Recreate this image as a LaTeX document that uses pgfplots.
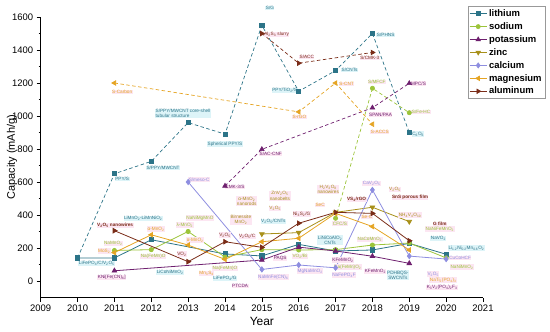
\documentclass[border=0pt]{standalone}
\usepackage{fontspec}
\setmainfont{Liberation Sans}
\usepackage{pgfplots}
\pgfplotsset{compat=1.18}
\definecolor{cLi}{HTML}{2C7488}
\definecolor{cNa}{HTML}{9CC43A}
\definecolor{cK}{HTML}{6E1F6E}
\definecolor{cZn}{HTML}{A8901A}
\definecolor{cCa}{HTML}{8E8EE0}
\definecolor{cMg}{HTML}{E5A423}
\definecolor{cAl}{HTML}{7A2C18}
\definecolor{bgLi}{HTML}{DDF4F8}
\definecolor{bgP}{HTML}{FCE6F2}
\newcommand{\sub}[1]{\textsubscript{#1}}
\tikzset{
 lb/.style={font=\fontsize{4.7}{5.1}\selectfont, inner sep=0.5pt, text=#1, fill=bgP, align=center},
 ll/.style={font=\fontsize{4.7}{5.1}\selectfont, inner sep=0.5pt, text=cLi, fill=bgLi, align=center},
 bf/.style={font=\bfseries\fontsize{4.7}{5.1}\selectfont},
}
\begin{document}
\begin{tikzpicture}
\useasboundingbox (0,0) rectangle (550bp,332bp);
\begin{axis}[
 at={(40.7bp,34.5bp)}, anchor=south west, scale only axis,
 width=442.3bp, height=280.5bp,
 xmin=2009, xmax=2021, ymin=-100, ymax=1600,
 axis x line*=bottom, axis y line*=left,
 xtick={2009,2010,...,2021}, ytick={0,200,...,1600},
 minor x tick num=1, minor y tick num=1,
 tick align=outside, major tick length=4bp, minor tick length=2.2bp,
 every tick/.style={black, line width=0.6pt},
 axis line style={black, line width=0.7pt, -},
 /pgf/number format/1000 sep={}, /pgf/number format/assume math mode=true,
 tick label style={font=\fontsize{9.5}{11}\selectfont},
 xlabel={Year}, ylabel={Capacity (mAh/g)},
 xlabel style={font=\fontsize{12}{14}\selectfont, at={(axis description cs:0.5,-0.087)}, anchor=center},
 ylabel style={font=\fontsize{11}{13}\selectfont, at={(axis description cs:-0.065,0.5)}, anchor=center},
 clip=false,
 legend style={at={(axis description cs:0.966,1.039)}, anchor=north west, draw=gray!80, line width=0.5pt,
   font=\bfseries\fontsize{9.5}{10}\selectfont, fill=white, inner sep=1.2pt, row sep=0.6pt},
 legend cell align=left,
 legend image post style={line width=0.6pt},
]
% ---- dashed (sulfur / conversion) series
\addplot[cLi, dash pattern=on 3.5pt off 2.5pt, line width=0.7pt, mark=square*, mark size=2.1pt, mark options={solid}, forget plot]
 coordinates {(2010,140)(2011,650)(2012,725)(2013,960)(2014,890)(2015,1550)(2016,1150)(2017,1275)(2018,1500)(2019,900)};
\addplot[cNa, dash pattern=on 3.5pt off 2.5pt, line width=0.7pt, mark=*, mark size=2.1pt, mark options={solid}, forget plot]
 coordinates {(2017,380)(2018,1168)(2019,1020)};
\addplot[cK, dash pattern=on 3.5pt off 2.5pt, line width=0.7pt, mark=triangle*, mark size=2.6pt, mark options={solid}, forget plot]
 coordinates {(2014,576)(2015,798)(2018,1050)(2019,1198)};
\addplot[cMg, dash pattern=on 3.5pt off 2.5pt, line width=0.7pt, mark=triangle*, mark size=2.6pt, mark options={solid, rotate=90}, forget plot]
 coordinates {(2011,1200)(2016,1025)(2017,1200)(2018,950)};
\addplot[cAl, dash pattern=on 3.5pt off 2.5pt, line width=0.7pt, mark=triangle*, mark size=2.6pt, mark options={solid, rotate=-90}, forget plot]
 coordinates {(2015,1500)(2016,1320)(2018,1385)};
% ---- solid series
\addplot[cLi, line width=0.8pt, mark=square*, mark size=2.1pt]
 coordinates {(2010,140)(2011,140)(2012,250)(2014,164)(2015,152)(2016,222)(2017,182)(2018,188)(2019,228)(2020,162)};
\addlegendentry{lithium}
\addplot[cNa, line width=0.8pt, mark=*, mark size=2.1pt]
 coordinates {(2011,185)(2012,190)(2013,300)(2014,145)(2015,190)(2016,188)(2017,190)(2018,218)(2019,230)(2020,140)};
\addlegendentry{sodium}
\addplot[cK, line width=0.8pt, mark=triangle*, mark size=2.6pt]
 coordinates {(2011,62)(2015,127)(2016,205)(2017,182)(2018,150)(2019,107)};
\addlegendentry{potassium}
\addplot[cZn, line width=0.8pt, mark=triangle*, mark size=2.6pt, mark options={rotate=180}]
 coordinates {(2015,285)(2016,293)(2017,416)(2018,447)(2019,360)};
\addlegendentry{zinc}
\addplot[cCa, line width=0.8pt, mark=diamond*, mark size=2.6pt]
 coordinates {(2013,600)(2015,70)(2016,97)(2017,80)(2018,552)(2019,151)(2020,133)};
\addlegendentry{calcium}
\addplot[cMg, line width=0.8pt, mark=triangle*, mark size=2.6pt, mark options={rotate=90}]
 coordinates {(2011,172)(2012,280)(2013,218)(2014,131)(2015,238)(2016,259)(2017,410)(2018,330)(2019,188)};
\addlegendentry{magnesium}
\addplot[cAl, line width=0.8pt, mark=triangle*, mark size=2.6pt, mark options={rotate=-90}]
 coordinates {(2011,305)(2013,117)(2014,238)(2015,204)(2016,350)(2017,416)(2018,410)(2019,244)};
\addlegendentry{aluminum}
% ---- labels: lithium
\node[ll] at (axis cs:2015.22,1655) {S/G};
\node[ll] at (axis cs:2017.38,1279) {S/CNTs};
\node[ll] at (axis cs:2015.62,1153) {PPY/TiO\sub{2}/S};
\node[ll] at (axis cs:2018.36,1491) {S/PHNS};
\node[ll] at (axis cs:2019.24,891) {C\sub{6}O\sub{6}};
\node[ll] at (axis cs:2014,830) {Spherical PPY/S};
\node[ll, anchor=west, align=left] at (axis cs:2012.1,1015) {S/PPY/MWCNT core-shell\\tubular structure};
\node[ll] at (axis cs:2012.32,685) {S/PPY/MWCNT};
\node[ll] at (axis cs:2011.21,618) {PPY/S};
\node[ll] at (axis cs:2011.78,380) {LiMnO\sub{2}-LiMnNiO\sub{2}};
\node[ll] at (axis cs:2010.52,107) {LiFePO\sub{4}/C/V\sub{2}O\sub{5}};
\node[ll] at (axis cs:2012.51,50) {LiCoNiMnO\sub{2}};
\node[ll] at (axis cs:2014,16) {LiFePO\sub{4}/G};
\node[ll] at (axis cs:2015.31,360) {V\sub{2}O\sub{5}/CNTs};
\node[ll] at (axis cs:2016.85,248) {LiNiCoAlO\sub{2}\\CNTs};
\node[ll] at (axis cs:2018.69,36) {PDHBQS-\\SWCNTs};
\node[ll] at (axis cs:2019.79,259) {NaVO\sub{2}};
\node[ll] at (axis cs:2020.55,200) {Li\sub{1.2}Ni\sub{0.2}Mn\sub{0.6}O\sub{2}};
% sodium
\node[lb=cNa] at (axis cs:2018.12,1205) {S/MFCF};
\node[lb=cNa] at (axis cs:2019.32,1024) {S/Fe-HC};
\node[lb=cNa] at (axis cs:2010.97,226) {NaMnO\sub{2}};
\node[lb=cNa] at (axis cs:2012.05,150) {Na(FeMn)O};
\node[lb=cNa] at (axis cs:2012.91,339) {λ-MnO\sub{2}};
\node[lb=cNa] at (axis cs:2013.32,382) {NaNiMgMnO};
\node[lb=cNa] at (axis cs:2014,77) {Na(FeMn)O};
\node[lb=cNa] at (axis cs:2016.03,150) {VO\sub{2}/Bi};
\node[lb=cNa] at (axis cs:2017.12,348) {CFC/S};
\node[lb=cNa] at (axis cs:2017.93,250) {NaCoMnO\sub{2}};
\node[lb=cNa] at (axis cs:2017.33,86) {Na(FeMn)O\sub{2}};
\node[lb=cNa] at (axis cs:2019.83,315) {NaNiFeMnO\sub{2}};
\node[lb=cNa] at (axis cs:2020.43,85) {NaNiMnO\sub{2}};
% potassium
\node[lb=cK] at (axis cs:2019.25,1198) {MPC/S};
\node[lb=cK] at (axis cs:2018.22,1010) {SPAN/PAA};
\node[lb=cK] at (axis cs:2015.24,770) {S/AC-CNF};
\node[lb=cK] at (axis cs:2014.27,570) {CMK-3/S};
\node[lb=cK] at (axis cs:2010.93,20) {KNi[Fe(CN)\sub{6}]};
\node[lb=cK] at (axis cs:2014.41,-30) {PTCDA};
\node[lb=cK] at (axis cs:2015.5,135) {PAQS};
\node[lb=cK] at (axis cs:2017.2,127) {KFeMnO\sub{2}};
\node[lb=cK] at (axis cs:2018.08,58) {KFeMnO\sub{2}};
\node[lb=cK] at (axis cs:2019.89,-38) {K\sub{3}V\sub{2}(PO\sub{4})\sub{2}F\sub{3}};
% zinc
\node[lb=cZn] at (axis cs:2014.59,484) {α-MnO\sub{2}\\nanorods};
\node[lb=cZn] at (axis cs:2014.43,370) {Birnessite\\MnO\sub{2}};
\node[lb=cZn] at (axis cs:2015.49,516) {ZnV\sub{2}O\sub{5}\\nanobelts};
\node[lb=cZn] at (axis cs:2015.36,441) {V\sub{2}O\sub{5}};
\node[lb=cZn] at (axis cs:2016.8,556) {H\sub{2}V\sub{3}O\sub{8}\\nanowires};
\node[lb=cZn] at (axis cs:2018.61,556) {V\sub{2}O\sub{5}};
\node[lb=cZn] at (axis cs:2019.02,400) {NH\sub{4}V\sub{4}O\sub{10}};
% calcium
\node[lb=cCa] at (axis cs:2013.3,615) {S/meso-C};
\node[lb=cCa] at (axis cs:2015.31,24) {NaMnFe(CN)\sub{6}};
\node[lb=cCa] at (axis cs:2016.31,61) {MgNaMnO\sub{2}};
\node[lb=cCa] at (axis cs:2017.23,36) {NaFePO\sub{4}F};
\node[lb=cCa] at (axis cs:2017.98,592) {CaV\sub{2}O\sub{5}};
\node[lb=cCa] at (axis cs:2019.65,42) {V\sub{2}O\sub{5}};
\node[lb=cCa] at (axis cs:2020.38,139) {CuCoHCF};
% magnesium
\node[lb=cMg] at (axis cs:2011.21,1145) {S-Carbon};
\node[lb=cMg] at (axis cs:2016.02,996) {S-rGO};
\node[lb=cMg] at (axis cs:2017.3,1194) {S-CNT};
\node[lb=cMg] at (axis cs:2018.2,905) {S-ACCS};
\node[lb=cMg] at (axis cs:2010.72,182) {MoS\sub{2}};
\node[lb=cMg] at (axis cs:2012.13,315) {α-MnO\sub{2}};
\node[lb=cMg] at (axis cs:2013.19,248) {α-MnO\sub{2}};
\node[lb=cMg] at (axis cs:2013.5,47) {Mn\sub{3}S\sub{4}};
\node[lb=cMg] at (axis cs:2016.58,461) {SeC};
\node[lb=cMg] at (axis cs:2017.85,388) {Se-C};
\node[lb=cMg] at (axis cs:2019.92,6) {NaTi\sub{2}(PO\sub{4})\sub{3}};
% aluminum
\node[lb=cAl] at (axis cs:2015.4,1495) {Al\sub{2}S\sub{3} slurry};
\node[lb=cAl] at (axis cs:2016.22,1358) {S/ACC};
\node[lb=cAl] at (axis cs:2017.93,1350) {S/CMK-3};
\node[lb=cAl, bf] at (axis cs:2011.02,335) {V\sub{2}O\sub{5} nanowires};
\node[lb=cAl] at (axis cs:2012.83,164) {VO\sub{2}};
\node[lb=cAl] at (axis cs:2014,279) {V\sub{2}O\sub{5}};
\node[lb=cAl] at (axis cs:2014.6,268) {V\sub{2}O\sub{5}/C};
\node[lb=cAl] at (axis cs:2016.08,406) {Ni\sub{3}S\sub{2}/G};
\node[lb=cAl, bf] at (axis cs:2017.57,495) {VS\sub{4}/rGO};
\node[lb=cAl, bf] at (axis cs:2019.02,507) {SnS porous film};
\node[lb=cAl, bf] at (axis cs:2019.83,345) {G film};
\end{axis}
\end{tikzpicture}
\end{document}
